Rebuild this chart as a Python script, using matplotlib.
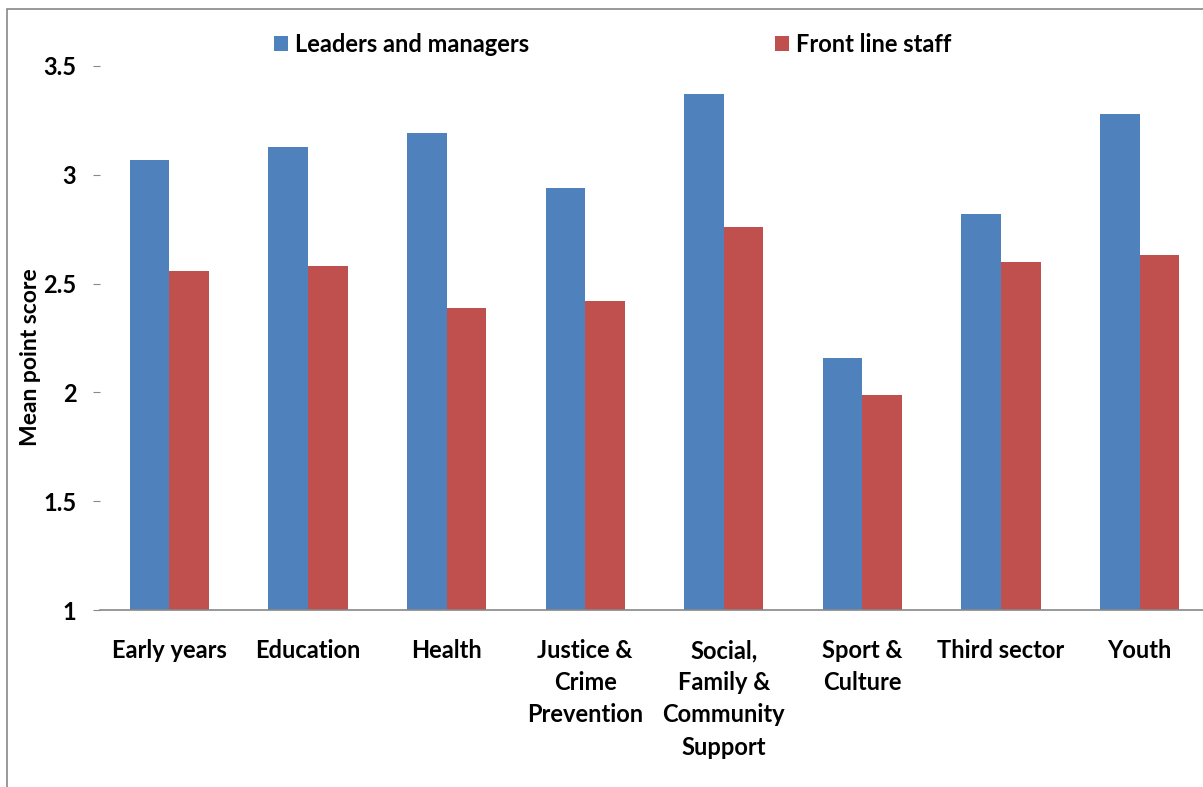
import numpy as np
import matplotlib
matplotlib.use("Agg")
import matplotlib.pyplot as plt
from matplotlib.patches import Rectangle

categories = ["Early years", "Education", "Health", "Justice &\nCrime\nPrevention",
              "Social,\nFamily &\nCommunity\nSupport", "Sport &\nCulture", "Third sector", "Youth"]
leaders = [3.07, 3.13, 3.19, 2.94, 3.37, 2.16, 2.82, 3.28]
front_line = [2.56, 2.58, 2.39, 2.42, 2.76, 1.99, 2.60, 2.63]
yticks = [1, 1.5, 2, 2.5, 3, 3.5]
ytick_labels = ["1", "1.5", "2", "2.5", "3", "3.5"]

plt.rcParams['font.family'] = ['Lato', 'DejaVu Sans']

fig = plt.figure(figsize=(12.03, 7.87), dpi=100)
W, H = 1203, 787
ax = fig.add_axes([100 / W, 177 / H, 1109 / W, 544 / H])

x = np.arange(len(categories))
w = 0.2857
ax.bar(x - w / 2, leaders, w, color="#4F81BD", label="Leaders and managers")
ax.bar(x + w / 2, front_line, w, color="#C0504D", label="Front line staff")

ax.set_xlim(-0.5, len(categories) - 0.5)
ax.set_ylim(1, 3.5)
ax.set_yticks(yticks)
ax.set_yticklabels(ytick_labels, fontsize=17, fontweight="bold")
ax.set_xticks(x)
ax.set_xticklabels(categories, fontsize=17, fontweight="bold", linespacing=1.48)
ax.tick_params(axis="x", length=0, pad=21)
ax.tick_params(axis="y", length=5, color="#888888", pad=12)

for s in ["top", "right", "left"]:
    ax.spines[s].set_visible(False)
ax.spines["bottom"].set_color("#888888")
ax.spines["bottom"].set_linewidth(1.2)

fig.text(31 / W, 1 - 357 / H, "Mean point score", rotation=90, ha="center", va="center",
         fontsize=16.5, fontweight="bold")

leg = fig.legend(loc="center left", bbox_to_anchor=(262 / W, 1 - 44 / H), ncol=2,
                 frameon=False, prop={"size": 17, "weight": "bold"}, borderpad=0,
                 handlelength=0.6, handleheight=0.6, handletextpad=0.3,
                 columnspacing=10.4)

# outer chart border (cut off at right and bottom)
fig.patches.append(Rectangle((7 / W, -0.05), 1.1, 1 - 9 / H + 0.05,
                             transform=fig.transFigure, fill=False,
                             edgecolor="#888888", linewidth=1.2))

fig.savefig("out.png", dpi=100)
